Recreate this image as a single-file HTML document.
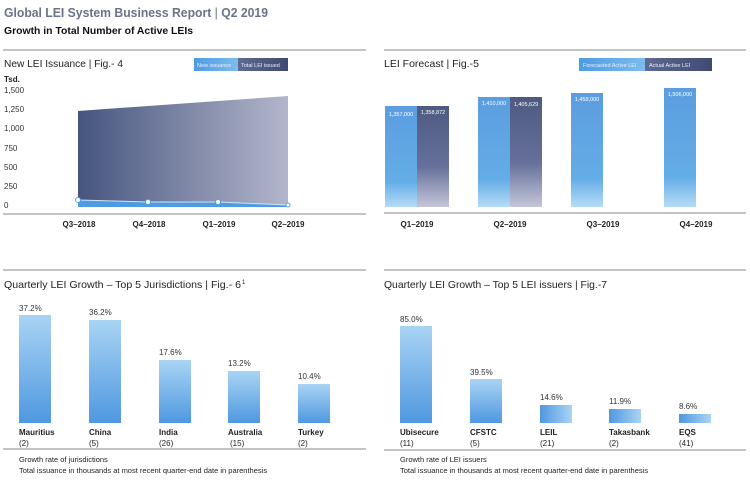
<!DOCTYPE html>
<html><head><meta charset="utf-8"><style>
body{margin:0;background:#fff;width:750px;height:479px;overflow:hidden;font-family:"Liberation Sans",sans-serif}
</style></head><body>
<svg width="750" height="479" xmlns="http://www.w3.org/2000/svg" font-family="Liberation Sans, sans-serif">
<defs>
<linearGradient id="area" x1="0" x2="1" y1="0" y2="0"><stop offset="0" stop-color="#46557e"/><stop offset="1" stop-color="#b3b6cb"/></linearGradient>
<linearGradient id="fc" x1="0" x2="0" y1="0" y2="1"><stop offset="0" stop-color="#5b9de0"/><stop offset="0.75" stop-color="#64ade6"/><stop offset="1" stop-color="#b6dcf6"/></linearGradient>
<linearGradient id="ac" x1="0" x2="0" y1="0" y2="1"><stop offset="0" stop-color="#4e5a80"/><stop offset="0.6" stop-color="#66709a"/><stop offset="1" stop-color="#c4c6d8"/></linearGradient>
<linearGradient id="bar" x1="0" x2="0" y1="0" y2="1"><stop offset="0" stop-color="#a9d4f4"/><stop offset="1" stop-color="#4f98e0"/></linearGradient>
<linearGradient id="barh" x1="0" x2="1" y1="0" y2="0"><stop offset="0" stop-color="#4f98e0"/><stop offset="1" stop-color="#a9d4f4"/></linearGradient>
<linearGradient id="lg1" x1="0" x2="1"><stop offset="0" stop-color="#4f9be2"/><stop offset="1" stop-color="#7dbcee"/></linearGradient>
<linearGradient id="lg2" x1="0" x2="1"><stop offset="0" stop-color="#5e6a93"/><stop offset="1" stop-color="#3f4a72"/></linearGradient>
</defs>
<text x="4" y="17" font-size="13" font-weight="bold" fill="#6c7389" textLength="264" lengthAdjust="spacingAndGlyphs">Global LEI System Business Report <tspan font-weight="normal">|</tspan> Q2 2019</text>
<text x="4" y="34" font-size="10.5" font-weight="bold" fill="#111" textLength="189" lengthAdjust="spacingAndGlyphs">Growth in Total Number of Active LEIs</text>
<line x1="3" y1="50" x2="366" y2="50" stroke="#888" stroke-width="1"/>
<line x1="384" y1="50" x2="746" y2="50" stroke="#888" stroke-width="1"/>
<text x="4" y="67" font-size="10.5" fill="#222" textLength="119" lengthAdjust="spacingAndGlyphs">New LEI Issuance | Fig.- 4</text>
<rect x="194" y="58" width="44" height="13" fill="url(#lg1)"/><rect x="238" y="58" width="50" height="13" fill="url(#lg2)"/>
<text x="197" y="67" font-size="5.5" fill="#e8f2ff">New issuance</text><text x="241" y="67" font-size="5.5" fill="#eef">Total LEI issued</text>
<text x="4" y="82" font-size="8" font-weight="bold" fill="#222">Tsd.</text>
<g font-size="8" fill="#333"><text x="4" y="93">1,500</text><text x="4" y="112">1,250</text><text x="4" y="131">1,000</text><text x="4" y="151">750</text><text x="4" y="170">500</text><text x="4" y="189">250</text><text x="4" y="208">0</text></g>
<polygon points="78,111 288,96 288,207 78,207" fill="url(#area)"/>
<polygon points="78,200 148,202 218,202 288,205 288,207 78,207" fill="#4f9be2"/>
<polyline points="78,200 148,202 218,202 288,205" fill="none" stroke="#cfe6fb" stroke-width="1"/>
<g fill="#fff" stroke="#5aa2e4" stroke-width="1"><circle cx="78" cy="200" r="2.5"/><circle cx="148" cy="202" r="2.5"/><circle cx="218" cy="202" r="2.5"/><circle cx="288" cy="205" r="2"/></g>
<line x1="3" y1="214" x2="366" y2="214" stroke="#888"/>
<g font-size="8" font-weight="bold" fill="#222" text-anchor="middle"><text x="79" y="227">Q3–2018</text><text x="149" y="227">Q4–2018</text><text x="219" y="227">Q1–2019</text><text x="288" y="227">Q2–2019</text></g>

<text x="384" y="67" font-size="10.5" fill="#222">LEI Forecast | Fig.-5</text>
<rect x="579" y="58" width="66" height="13" fill="url(#lg1)"/><rect x="645" y="58" width="67" height="13" fill="url(#lg2)"/>
<text x="583" y="67" font-size="5.5" fill="#e8f2ff">Forecasted Active LEI</text><text x="649" y="67" font-size="5.5" fill="#eef">Actual Active LEI</text>
<rect x="385" y="106" width="32" height="101" fill="url(#fc)"/><rect x="417" y="106" width="32" height="101" fill="url(#ac)"/>
<rect x="478" y="97" width="32" height="110" fill="url(#fc)"/><rect x="510" y="97" width="32" height="110" fill="url(#ac)"/>
<rect x="571" y="93" width="32" height="114" fill="url(#fc)"/>
<rect x="664" y="88" width="32" height="119" fill="url(#fc)"/>
<g font-size="5.5" fill="#fff" text-anchor="middle"><text x="401" y="116">1,357,000</text><text x="433" y="114">1,358,872</text><text x="494" y="105">1,410,000</text><text x="526" y="106">1,405,629</text><text x="587" y="101">1,458,000</text><text x="680" y="96">1,506,000</text></g>
<line x1="384" y1="213" x2="746" y2="213" stroke="#888"/>
<g font-size="8" font-weight="bold" fill="#222" text-anchor="middle"><text x="417" y="227">Q1–2019</text><text x="510" y="227">Q2–2019</text><text x="603" y="227">Q3–2019</text><text x="696" y="227">Q4–2019</text></g>

<line x1="3" y1="270" x2="366" y2="270" stroke="#888"/>
<line x1="384" y1="270" x2="746" y2="270" stroke="#888"/>
<text x="4" y="288" font-size="10.5" fill="#222" textLength="237" lengthAdjust="spacingAndGlyphs">Quarterly LEI Growth – Top 5 Jurisdictions | Fig.- 6</text><text x="242" y="284" font-size="6" fill="#222">1</text>
<text x="384" y="288" font-size="10.5" fill="#222" textLength="223" lengthAdjust="spacingAndGlyphs">Quarterly LEI Growth – Top 5 LEI issuers | Fig.-7</text>
<rect x="19" y="315" width="32" height="108" fill="url(#bar)"/>
<rect x="89" y="320" width="32" height="103" fill="url(#bar)"/>
<rect x="159" y="360" width="32" height="63" fill="url(#bar)"/>
<rect x="228" y="371" width="32" height="52" fill="url(#bar)"/>
<rect x="298" y="384" width="32" height="39" fill="url(#bar)"/>
<g font-size="8" fill="#333"><text x="19" y="311">37.2%</text><text x="89" y="315">36.2%</text><text x="159" y="355">17.6%</text><text x="228" y="366">13.2%</text><text x="298" y="379">10.4%</text></g>
<g font-size="8" fill="#222"><g font-weight="bold"><text x="19" y="435">Mauritius</text><text x="89" y="435">China</text><text x="159" y="435">India</text><text x="228" y="435">Australia</text><text x="298" y="435">Turkey</text></g>
<text x="19" y="446">(2)</text><text x="89" y="446">(5)</text><text x="159" y="446">(26)</text><text x="230" y="446">(15)</text><text x="298" y="446">(2)</text></g>
<rect x="400" y="326" width="32" height="97" fill="url(#bar)"/>
<rect x="470" y="379" width="32" height="44" fill="url(#bar)"/>
<rect x="540" y="405" width="32" height="18" fill="url(#barh)"/>
<rect x="609" y="409" width="32" height="14" fill="url(#barh)"/>
<rect x="679" y="414" width="32" height="9" fill="url(#barh)"/>
<g font-size="8" fill="#333"><text x="400" y="322">85.0%</text><text x="470" y="375">39.5%</text><text x="540" y="400">14.6%</text><text x="609" y="404">11.9%</text><text x="679" y="409">8.6%</text></g>
<g font-size="8" fill="#222"><g font-weight="bold"><text x="400" y="435">Ubisecure</text><text x="470" y="435">CFSTC</text><text x="540" y="435">LEIL</text><text x="609" y="435">Takasbank</text><text x="679" y="435">EQS</text></g>
<text x="400" y="446">(11)</text><text x="470" y="446">(5)</text><text x="540" y="446">(21)</text><text x="609" y="446">(2)</text><text x="679" y="446">(41)</text></g>
<line x1="3" y1="449" x2="366" y2="449" stroke="#888"/>
<line x1="384" y1="450" x2="746" y2="450" stroke="#888"/>
<g font-size="7.5" fill="#222"><text x="19" y="462">Growth rate of jurisdictions</text><text x="19" y="473">Total issuance in thousands at most recent quarter-end date in parenthesis</text>
<text x="400" y="462">Growth rate of LEI issuers</text><text x="400" y="473">Total issuance in thousands at most recent quarter-end date in parenthesis</text></g>
</svg>
</body></html>
